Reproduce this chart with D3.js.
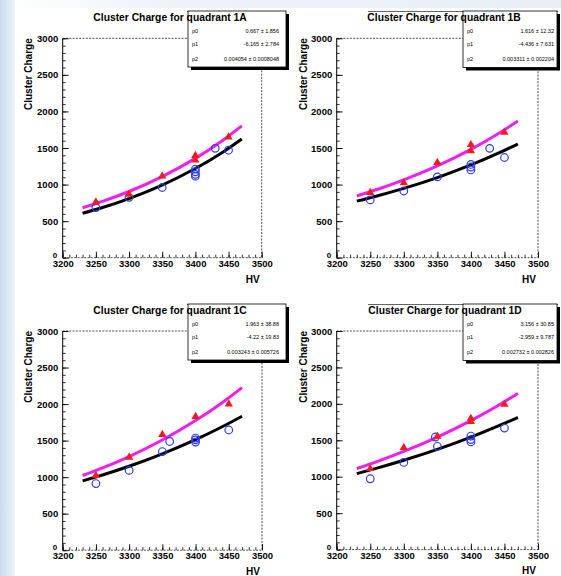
<!DOCTYPE html>
<html><head><meta charset="utf-8">
<script src="https://cdn.jsdelivr.net/npm/d3@7"></script>
<style>body{margin:0;background:#fff}svg{display:block}text{font-family:"Liberation Sans",Arial,Helvetica,sans-serif}</style>
</head><body><script>
// ---------- DATA ----------
const panelNames = ["1A", "1B", "1C", "1D"];
const hvTicks = [3200, 3250, 3300, 3350, 3400, 3450, 3500];
const chargeTicks = [0, 500, 1000, 1500, 2000, 2500, 3000];
const xAxisTitle = "HV";
const yAxisTitle = "Cluster Charge";

// red triangles (HV, charge)
const triHV_1A = [3250, 3300, 3350, 3400, 3400, 3450];
const triQ_1A  = [760, 865, 1115, 1395, 1335, 1648];
const triHV_1B = [3250, 3300, 3350, 3400, 3400, 3450];
const triQ_1B  = [890, 1025, 1300, 1545, 1460, 1715];
const triHV_1C = [3250, 3300, 3350, 3400, 3450];
const triQ_1C  = [1021, 1272, 1582, 1828, 2000];
const triHV_1D = [3250, 3300, 3350, 3400, 3400, 3450];
const triQ_1D  = [1110, 1400, 1555, 1800, 1755, 1995];

// blue open circles (HV, charge)
const cirHV_1A = [3250, 3300, 3350, 3400, 3400, 3400, 3400, 3430, 3450];
const cirQ_1A  = [685, 825, 960, 1210, 1175, 1140, 1115, 1495, 1470];
const cirHV_1B = [3250, 3300, 3350, 3400, 3400, 3400, 3428, 3450];
const cirQ_1B  = [790, 912, 1105, 1275, 1240, 1200, 1495, 1370];
const cirHV_1C = [3250, 3300, 3350, 3361, 3400, 3400, 3400, 3450];
const cirQ_1C  = [912, 1092, 1350, 1488, 1535, 1510, 1480, 1645];
const cirHV_1D = [3250, 3300, 3347, 3350, 3400, 3400, 3400, 3450];
const cirQ_1D  = [972, 1196, 1545, 1418, 1558, 1510, 1478, 1668];

// fitted curves, sampled (HV, charge)
const fitHV = [3230, 3260, 3300, 3350, 3400, 3440, 3470];
const magQ_1A = [682, 770, 905, 1109, 1358, 1597, 1803];
const blkQ_1A = [607, 686, 809, 993, 1219, 1436, 1624];
const magQ_1B = [844, 932, 1065, 1256, 1482, 1692, 1869];
const blkQ_1B = [773, 844, 948, 1096, 1268, 1425, 1555];
const magQ_1C = [1022, 1126, 1282, 1508, 1774, 2019, 2225];
const blkQ_1C = [948, 1030, 1149, 1319, 1513, 1689, 1834];
const magQ_1D = [1113, 1208, 1347, 1545, 1771, 1975, 2144];
const blkQ_1D = [1043, 1118, 1226, 1375, 1543, 1693, 1814];

// fit parameter boxes
const parNames = ["p0", "p1", "p2"];
const parVals_1A = ["0.667 \u00b1 1.856", "-6.165 \u00b1 2.784", "0.004054 \u00b1 0.0008048"];
const parVals_1B = ["1.616 \u00b1 12.32", "-4.436 \u00b1 7.631", "0.003311 \u00b1 0.002204"];
const parVals_1C = ["1.963 \u00b1 38.88", "-4.22 \u00b1 19.83", "0.003243 \u00b1 0.005726"];
const parVals_1D = ["3.156 \u00b1 30.85", "-2.959 \u00b1 9.787", "0.002732 \u00b1 0.002826"];

const data = {
  "1A": {triHV: triHV_1A, triQ: triQ_1A, cirHV: cirHV_1A, cirQ: cirQ_1A, mag: magQ_1A, blk: blkQ_1A, pars: parVals_1A},
  "1B": {triHV: triHV_1B, triQ: triQ_1B, cirHV: cirHV_1B, cirQ: cirQ_1B, mag: magQ_1B, blk: blkQ_1B, pars: parVals_1B},
  "1C": {triHV: triHV_1C, triQ: triQ_1C, cirHV: cirHV_1C, cirQ: cirQ_1C, mag: magQ_1C, blk: blkQ_1C, pars: parVals_1C},
  "1D": {triHV: triHV_1D, triQ: triQ_1D, cirHV: cirHV_1D, cirQ: cirQ_1D, mag: magQ_1D, blk: blkQ_1D, pars: parVals_1D}
};

// ---------- LAYOUT ----------
const W = 561, H = 576;
const layout = {
  "1A": {x0: 62.7, x1: 261.7, y0: 38.3, y1: 257.7, tx: 170, ty: 21, bx0: 188, bx1: 286, by0: 11, by1: 67, valPad: 7, lineX0: 187, lineX1: 283, yt: 31.5, hvY: 283},
  "1B": {x0: 336.7, x1: 538, y0: 38.3, y1: 257.7, tx: 444, ty: 21, bx0: 463, bx1: 557, by0: 11, by1: 67.5, valPad: 3, lineX0: 368, lineX1: 558, yt: 307, hvY: 283},
  "1C": {x0: 62.7, x1: 262, y0: 331, y1: 550.2, tx: 170, ty: 314, bx0: 188, bx1: 286, by0: 304, by1: 360, valPad: 7, lineX0: 187, lineX1: 283, yt: 31.5, hvY: 575},
  "1D": {x0: 336.7, x1: 538, y0: 331, y1: 549.6, tx: 445, ty: 314, bx0: 463, bx1: 557, by0: 304, by1: 360.5, valPad: 3, lineX0: 368, lineX1: 558, yt: 307, hvY: 574}
};

const svg = d3.select("body").append("svg").attr("width", W).attr("height", H);
const defs = svg.append("defs");
const lg = defs.append("linearGradient").attr("id", "lstrip").attr("x1", "0").attr("x2", "1").attr("y1", "0").attr("y2", "0");
lg.append("stop").attr("offset", "0").attr("stop-color", "#c7daef");
lg.append("stop").attr("offset", "1").attr("stop-color", "#eef4fa");
const tg = defs.append("linearGradient").attr("id", "tstrip").attr("x1", "0").attr("x2", "1").attr("y1", "0").attr("y2", "0");
tg.append("stop").attr("offset", "0").attr("stop-color", "#ffffff");
tg.append("stop").attr("offset", "0.3").attr("stop-color", "#eef3f9");
tg.append("stop").attr("offset", "1").attr("stop-color", "#e8eff7");

svg.append("rect").attr("width", W).attr("height", H).attr("fill", "#fff");
svg.append("rect").attr("x", 0).attr("y", 0).attr("width", W).attr("height", 8).attr("fill", "url(#tstrip)");
svg.append("rect").attr("x", 0).attr("y", 0).attr("width", 15).attr("height", H).attr("fill", "url(#lstrip)");

const C_MAG = "#f01ef0", C_RED = "#ee1c1c", C_BLUE = "#2a3cf5";

panelNames.forEach(name => {
  const L = layout[name], D = data[name];
  const g = svg.append("g");
  const x = d3.scaleLinear().domain([3200, 3500]).range([L.x0, L.x1]);
  const y = d3.scaleLinear().domain([0, 3000]).range([L.y1, L.y0]);

  // frame (dashed top/right/bottom)
  g.append("path")
    .attr("d", `M${L.x0},${L.y0}H${L.x1}V${L.y1}H${L.x0}`)
    .attr("fill", "none").attr("stroke", "#222").attr("stroke-width", 0.8).attr("stroke-dasharray", "2,1.3");
  g.append("line").attr("x1", L.x0).attr("x2", L.x0).attr("y1", L.y0).attr("y2", L.y1)
    .attr("stroke", "#000").attr("stroke-width", 1);

  // y axis minor ticks
  g.append("g").attr("transform", `translate(${L.x0},0)`)
    .call(d3.axisLeft(y).tickValues(d3.range(0, 3001, 100)).tickSizeInner(-3).tickSizeOuter(0).tickFormat(""))
    .call(s => s.select(".domain").remove())
    .call(s => s.selectAll("line").attr("stroke", "#000").attr("stroke-width", 0.8));
  // y axis major ticks + labels
  g.append("g").attr("transform", `translate(${L.x0},0)`)
    .call(d3.axisLeft(y).tickValues(chargeTicks).tickSizeInner(-6).tickSizeOuter(0).tickPadding(4.5).tickFormat(d3.format("d")))
    .call(s => s.select(".domain").remove())
    .call(s => s.selectAll("line").attr("stroke", "#000").attr("stroke-width", 0.9))
    .call(s => s.selectAll("text").attr("font-size", 9.5).attr("font-weight", "bold").attr("fill", "#000")
      .attr("font-family", "Liberation Sans, Arial, sans-serif"))
    .call(s => s.selectAll(".tick").filter(d => d === 0).select("text")
      .attr("font-size", 8).attr("dy", "-0.05em").attr("x", -5.5));

  // x axis minor ticks
  g.append("g").attr("transform", `translate(0,${L.y1})`)
    .call(d3.axisBottom(x).tickValues(d3.range(3200, 3501, 10)).tickSizeInner(-3).tickSizeOuter(0).tickFormat(""))
    .call(s => s.select(".domain").remove())
    .call(s => s.selectAll("line").attr("stroke", "#000").attr("stroke-width", 0.8));
  g.append("g").attr("transform", `translate(0,${L.y1})`)
    .call(d3.axisBottom(x).tickValues(hvTicks).tickSizeInner(-6).tickSizeOuter(0).tickPadding(2.5).tickFormat(d3.format("d")))
    .call(s => s.select(".domain").remove())
    .call(s => s.selectAll("line").attr("stroke", "#000").attr("stroke-width", 0.9))
    .call(s => s.selectAll("text").attr("font-size", 9.5).attr("font-weight", "bold").attr("fill", "#000")
      .attr("font-family", "Liberation Sans, Arial, sans-serif"));

  // axis titles
  g.append("text").attr("x", L.x1 - 2).attr("y", L.hvY).attr("text-anchor", "end")
    .attr("font-size", 10).attr("font-weight", "bold").text(xAxisTitle);
  g.append("text").attr("transform", `translate(${L.yt},${L.y0}) rotate(-90)`).attr("text-anchor", "end")
    .attr("font-size", 10).attr("font-weight", "bold").text(yAxisTitle);

  // fit curves
  const line = d3.line().x(d => x(d[0])).y(d => y(d[1])).curve(d3.curveNatural);
  g.append("path").datum(fitHV.map((h, i) => [h, D.blk[i]])).attr("d", line)
    .attr("fill", "none").attr("stroke", "#000").attr("stroke-width", 3).attr("stroke-linecap", "butt");
  g.append("path").datum(fitHV.map((h, i) => [h, D.mag[i]])).attr("d", line)
    .attr("fill", "none").attr("stroke", C_MAG).attr("stroke-width", 3).attr("stroke-linecap", "butt");

  // circles
  g.selectAll(".cir").data(D.cirHV.map((h, i) => [h, D.cirQ[i]])).join("circle")
    .attr("cx", d => x(d[0])).attr("cy", d => y(d[1])).attr("r", 3.8)
    .attr("fill", "none").attr("stroke", C_BLUE).attr("stroke-width", 1.2);
  // triangles
  const tri = d3.symbol().type(d3.symbolTriangle).size(30);
  g.selectAll(".tri").data(D.triHV.map((h, i) => [h, D.triQ[i]])).join("path")
    .attr("transform", d => `translate(${x(d[0])},${y(d[1])})`).attr("d", tri)
    .attr("fill", C_RED);

  // top gray line
  g.append("line").attr("x1", L.lineX0).attr("x2", L.lineX1).attr("y1", L.by0 + 0.5).attr("y2", L.by0 + 0.5)
    .attr("stroke", "#666").attr("stroke-width", 1);

  // stats box with shadow
  g.append("rect").attr("x", L.bx0 + 3).attr("y", L.by0 + 3).attr("width", L.bx1 - L.bx0).attr("height", L.by1 - L.by0)
    .attr("fill", "#000");
  g.append("rect").attr("x", L.bx0).attr("y", L.by0).attr("width", L.bx1 - L.bx0).attr("height", L.by1 - L.by0)
    .attr("fill", "#fff").attr("stroke", "#000").attr("stroke-width", 0.8);
  const rowY = [L.by0 + 21.5, L.by0 + 35, L.by0 + 49.5];
  parNames.forEach((pn, i) => {
    g.append("text").attr("x", L.bx0 + 4).attr("y", rowY[i]).attr("font-size", 5.5).text(pn);
    g.append("text").attr("x", L.bx1 - L.valPad).attr("y", rowY[i]).attr("text-anchor", "end")
      .attr("font-size", 5.5).text(D.pars[i]);
  });

  // title
  g.append("text").attr("x", L.tx).attr("y", L.ty).attr("text-anchor", "middle")
    .attr("font-size", 10.3).attr("font-weight", "bold").text("Cluster Charge for quadrant " + name);
});
</script></body></html>
